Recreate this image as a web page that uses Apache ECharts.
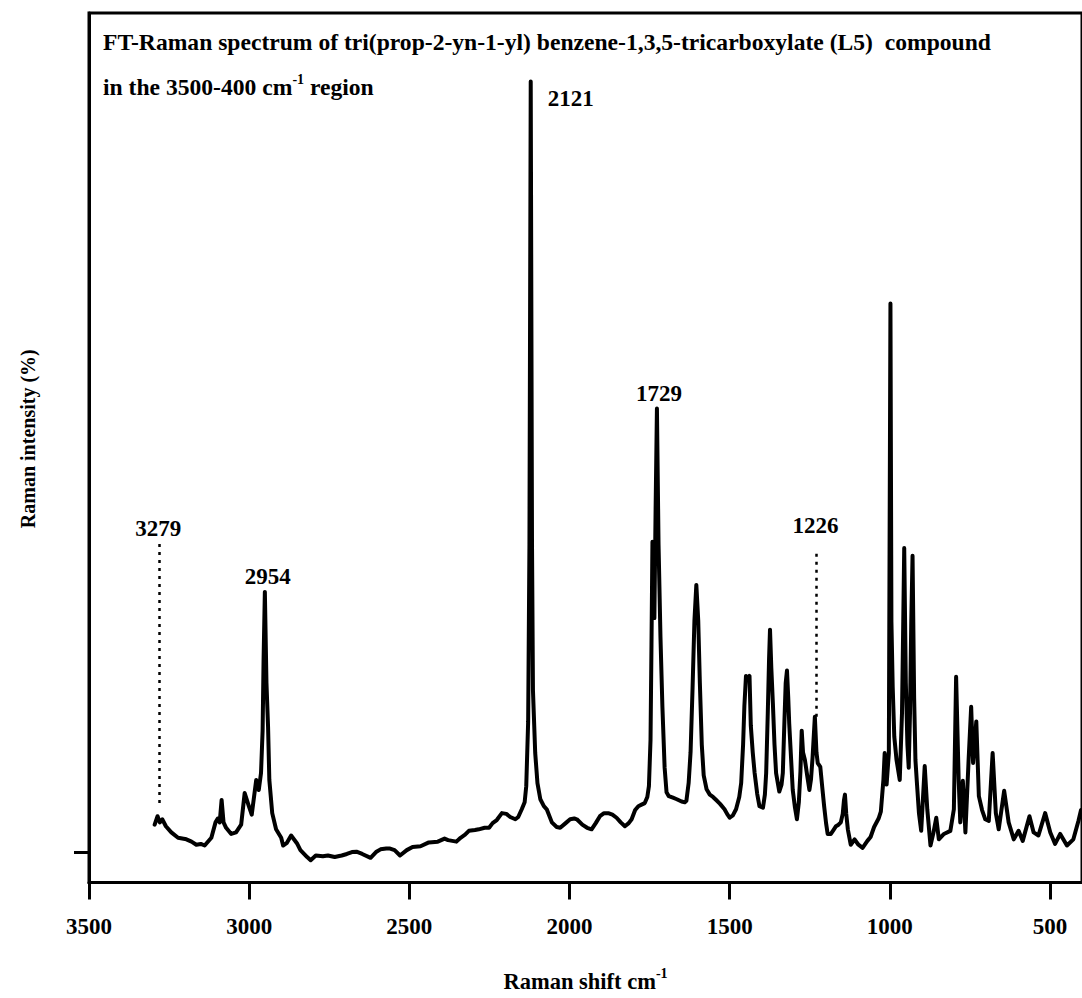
<!DOCTYPE html>
<html>
<head>
<meta charset="utf-8">
<script src="https://cdn.jsdelivr.net/npm/echarts@6/dist/echarts.min.js"></script>
<style>
html,body{margin:0;padding:0;background:#fff;}
#chart{width:1082px;height:998px;}
</style>
</head>
<body>
<div id="chart"></div>
<script>
// Raman shift (cm-1), descending
const shift = [
3295,3286,3279,3271,3260,3243,3222,3196,3180,3165,3151,3139,3118,3105,3098,3092,3086,3080,3072,3056,3041,3025,3014,3001,2992,2978,2970,2963,2958,2955,2951,2946,2941,2937,2928,2916,2900,2894,2883,2869,2851,2840,2819,2808,2792,2770,2754,2733,2711,2695,2679,2665,2647,2621,2604,2590,2572,2560,2546,2529,2508,2490,2465,2439,2411,2390,2379,2353,2340,2326,2314,2295,2283,2265,2251,2240,2227,2211,2197,2185,2169,2160,2149,2140,2135,2129,2125,2121,2117,2114,2107,2100,2091,2080,2071,2055,2040,2029,2012,1998,1985,1977,1960,1945,1931,1918,1905,1892,1879,1866,1853,1840,1827,1815,1806,1795,1785,1775,1765,1757,1752,1747,1744,1741,1738,1735,1731,1727,1722,1716,1710,1703,1697,1690,1677,1665,1650,1640,1635,1628,1622,1616,1610,1604,1598,1593,1587,1581,1572,1562,1552,1542,1530,1516,1508,1500,1490,1480,1470,1464,1458,1454,1449,1443,1438,1434,1428,1422,1414,1407,1396,1390,1386,1381,1377,1374,1370,1365,1360,1355,1345,1338,1334,1329,1325,1321,1317,1314,1308,1303,1296,1290,1284,1279,1275,1271,1265,1258,1251,1246,1241,1234,1229,1225,1217,1211,1205,1199,1194,1184,1176,1168,1160,1153,1147,1143,1140,1136,1131,1122,1110,1098,1085,1070,1060,1049,1035,1028,1020,1016,1010,1003,998,995,991,986,979,969,962,958,955,950,945,941,937,933,929,924,920,916,909,902,891,883,873,864,855,847,831,811,800,793,785,780,772,764,754,746,740,730,722,712,702,691,679,669,660,643,629,613,598,585,564,551,536,515,499,484,468,447,427,411,403
];
// Raman intensity (%), same order
const intensity = [
3.6,4.7,3.9,4.3,3.4,2.6,1.9,1.7,1.4,1.0,1.1,0.9,1.9,3.9,4.4,3.9,6.8,3.9,3.2,2.4,2.6,3.6,7.7,6.0,4.9,9.4,8.1,10.3,15.8,25,33.8,22,16.3,9.4,5.1,3.0,1.9,0.9,1.2,2.2,1.2,0.3,-0.6,-1.0,-0.4,-0.5,-0.4,-0.6,-0.4,-0.2,0.05,0.1,-0.2,-0.7,0.05,0.4,0.5,0.5,0.3,-0.4,0.3,0.7,0.8,1.3,1.4,1.8,1.6,1.4,1.9,2.3,2.8,2.9,3.0,3.2,3.2,3.8,4.2,5.1,5.0,4.6,4.3,4.6,5.6,6.5,8.6,17,40,100,40,21,12.9,9.0,6.9,6.0,5.6,3.9,3.3,3.2,3.8,4.3,4.4,4.3,3.6,3.2,3.0,3.8,4.7,5.1,5.1,4.9,4.5,3.9,3.4,3.8,4.3,5.5,6.0,6.2,6.4,7.2,8.6,14.6,27,40.3,39.5,30.4,45,57.6,40,28,19,11,7.8,7.3,7.1,6.9,6.6,6.5,6.7,9,13,21,30,34.7,30,22,14,10,8.2,7.5,7.2,6.8,6.3,5.6,5.0,4.5,4.8,5.6,7.2,9.0,14,19,22.9,22.5,22.9,16.5,13,10.3,7.6,6.0,5.8,7.5,10.3,18,25,28.9,24,19.3,14,10.3,7.9,8.8,10.3,17,22,23.6,20,16.7,12,8.1,5.8,4.3,6.5,10.5,15.8,13,12,10,8.1,9.5,12.4,17.6,13,11.6,11.1,8.5,6.0,3.8,2.4,2.4,2.9,3.4,3.6,3.9,5.0,6.8,7.5,5.0,3.0,1.0,1.7,1.0,0.6,1.5,2.0,3.3,4.4,5.3,9.4,12.9,8.8,12.9,71.2,30,21.5,15,12,9.4,18,30,39.5,22,14,11,18,30,38.5,20,12,9.4,5.1,2.8,11.2,5.6,0.9,2.5,4.5,1.7,2.4,2.8,5.6,22.8,9.4,3.9,9.3,2.6,12.0,18.9,11.6,17.0,7.3,5.5,4.3,4.1,12.9,5.1,3.0,8.0,3.9,1.7,2.8,1.5,4.7,2.6,2.2,5.1,2.6,1.1,2.4,0.9,1.7,4.1,5.5
];
const xTickValues = [3500, 3000, 2500, 2000, 1500, 1000, 500];
const yTickValues = [0];
const peakLabels = ['3279', '2954', '2121', '1729', '1226'];
const peakShift = [3281, 2951, 2121, 1727, 1229];
const peakIntensity = [40.6, 33.8, 100, 57.6, 38.8];
const dottedShift = [3281, 1229];
const dottedFrom = [6.4, 17.6];
const dottedTo = [40.6, 38.8];

const FONT = "'Liberation Serif','Times New Roman',serif";
const labelOffsets = [[-1, -11], [3, -15], [40, 17], [2, -15], [-1, -28]];

const seriesData = shift.map((s, i) => [s, intensity[i]]);

const richSup = (size) => ({
  a: {fontFamily: FONT, fontWeight: 'bold', fontSize: size, lineHeight: 30, color: '#000'},
  s: {fontFamily: FONT, fontWeight: 'bold', fontSize: 14, lineHeight: 14, verticalAlign: 'top', color: '#000'}
});

const chart = echarts.init(document.getElementById('chart'), null, {renderer: 'svg', width: 1082, height: 998});
chart.setOption({
  animation: false,
  backgroundColor: '#fff',
  title: [
    {
      text: 'FT-Raman spectrum of tri(prop-2-yn-1-yl) benzene-1,3,5-tricarboxylate (L5)  compound',
      left: 103, top: 30, padding: 0,
      textStyle: {fontFamily: FONT, fontWeight: 'bold', fontSize: 23.6, color: '#000'}
    },
    {
      text: '{a|in the 3500-400 cm}{s|-1}{a| region}',
      left: 103, top: 72, padding: 0,
      textStyle: {fontFamily: FONT, fontWeight: 'bold', fontSize: 23.6, color: '#000', rich: richSup(23.6)}
    }
  ],
  grid: {
    left: 89, top: 13, width: 996, height: 877,
    show: true, borderColor: '#000', borderWidth: 3, backgroundColor: 'transparent'
  },
  xAxis: {
    type: 'value', min: 400, max: 3500, inverse: true,
    axisLine: {show: true, onZero: false, lineStyle: {color: '#000', width: 3}},
    axisTick: {show: true, inside: false, length: 17, customValues: xTickValues, lineStyle: {color: '#000', width: 3}},
    axisLabel: {show: true, customValues: xTickValues, formatter: v => String(v), margin: 32, fontFamily: FONT, fontWeight: 'bold', fontSize: 23, color: '#000'},
    splitLine: {show: false},
    name: '{a|Raman shift cm}{s|-1}',
    nameLocation: 'middle', nameGap: 84, nameMoveOverlap: false,
    nameTextStyle: {fontFamily: FONT, fontWeight: 'bold', fontSize: 22.5, color: '#000', rich: richSup(22.5)}
  },
  yAxis: {
    type: 'value', min: -3.9, max: 108.9,
    axisLine: {show: true, onZero: false, lineStyle: {color: '#000', width: 3}},
    axisTick: {show: true, inside: false, length: 15, customValues: yTickValues, lineStyle: {color: '#000', width: 3}},
    axisLabel: {show: false},
    splitLine: {show: false},
    name: 'Raman intensity (%)',
    nameLocation: 'middle', nameRotate: 90, nameGap: 51, nameMoveOverlap: false,
    nameTextStyle: {fontFamily: FONT, fontWeight: 'bold', fontSize: 20, color: '#000', padding: [0, 0, 0, 18]}
  },
  series: [{
    type: 'line',
    data: seriesData,
    showSymbol: false,
    symbol: 'none',
    lineStyle: {color: '#000', width: 4, join: 'round', cap: 'round'},
    z: 3,
    markLine: {
      silent: true,
      symbol: ['none', 'none'],
      label: {show: false},
      lineStyle: {color: '#000', width: 2.5, type: [3, 5]},
      data: dottedShift.map((s, i) => [{coord: [s, dottedFrom[i]]}, {coord: [s, dottedTo[i]]}])
    },
    markPoint: {
      silent: true,
      symbol: 'circle', symbolSize: 1,
      itemStyle: {color: 'rgba(0,0,0,0)'},
      data: peakLabels.map((t, i) => ({
        coord: [peakShift[i], peakIntensity[i]],
        value: t,
        label: {
          show: true, position: 'inside', formatter: t, offset: labelOffsets[i],
          fontFamily: FONT, fontWeight: 'bold', fontSize: 23, color: '#000'
        }
      }))
    }
  }]
});
</script>
</body>
</html>
